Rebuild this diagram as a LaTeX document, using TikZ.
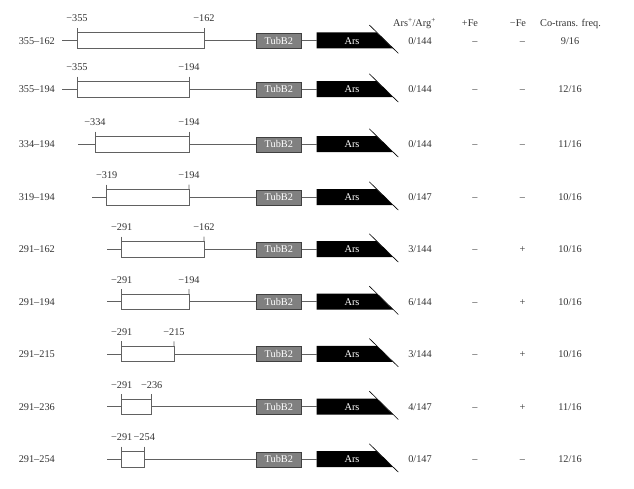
\documentclass[tikz,border=0pt]{standalone}
\usepackage{fontspec}
\setmainfont{Liberation Serif}
\begin{document}
\begin{tikzpicture}[x=1pt,y=-1pt,
  txt/.style={font=\fontsize{10.3}{12}\selectfont, text=black!80, inner sep=0pt},
  ln/.style={draw=black!62, line width=0.8pt},
  pbox/.style={draw=black!62, line width=0.8pt, fill=white, minimum height=15.6pt, inner sep=0pt, outer sep=0pt, anchor=west},
  tubbox/.style={draw=black!75, fill=black!50, line width=0.6pt, minimum width=45.7pt, minimum height=15pt, inner sep=0pt, outer sep=0pt, text=white, font=\fontsize{10.3}{12}\selectfont, anchor=west},
  arsfill/.style={fill=black},
  cut/.style={draw=black, line width=0.6pt}]
\useasboundingbox (0,0) rectangle (634,488);
% headers
\node[txt, anchor=base] (hA) at (414.5,26) {Ars\textsuperscript{+}/Arg\textsuperscript{+}};
\node[txt, anchor=base] (hP) at (470,26) {+Fe};
\node[txt, anchor=base] (hM) at (518,26) {−Fe};
\node[txt, anchor=base] (hC) at (570.5,26) {Co-trans. freq.};
\foreach \i/\y/\s/\L/\R/\ll/\rl/\ratio/\pf/\mf/\fr in {
  1/40.5/62/77/204/355/162/0\slash 144/–/–/9\slash 16,
  2/89.3/62/77/189/355/194/0\slash 144/–/–/12\slash 16,
  3/144.3/78/95/189/334/194/0\slash 144/–/–/11\slash 16,
  4/197.3/92.3/106.7/189/319/194/0\slash 147/–/–/10\slash 16,
  5/249.3/107.3/121.7/204/291/162/3\slash 144/–/+/10\slash 16,
  6/301.7/107.3/121.7/189/291/194/6\slash 144/–/+/10\slash 16,
  7/354/107.3/121.7/174/291/215/3\slash 144/–/+/10\slash 16,
  8/406.7/107.3/121.7/151.7/291/236/4\slash 147/–/+/11\slash 16,
  9/459.3/107.3/121.7/144.3/291/254/0\slash 147/–/–/12\slash 16}{
  % row label
  \node[txt, anchor=base east] (lab\i) at (55,\y+3.5) {\ll–\rl};
  % line start
  \coordinate (s\i) at (\s,\y);
  % promoter box
  \pgfmathsetmacro{\w}{\R-\L}
  \node[pbox, minimum width=\w pt] (p\i) at (\L,\y) {};
  % TubB2
  \node[tubbox] (t\i) at (256,\y) {TubB2};
  % Ars
  \coordinate (a\i) at (316.7,\y);
  \coordinate (aTL\i) at (316.7,\y-8.2);
  \coordinate (aTR\i) at (376.5,\y-8.2);
  \coordinate (aBR\i) at (392.8,\y+7.8);
  \coordinate (aBL\i) at (316.7,\y+7.8);
  \fill[arsfill] (aTL\i) -- (aTR\i) -- (aBR\i) -- (aBL\i) -- cycle;
  \node[txt, text=white, anchor=base] (ars\i) at (352,\y+3.5) {Ars};
  \coordinate (c1\i) at (369.3,\y-15.5);
  \coordinate (c2\i) at (398.3,\y+12.8);
  \draw[cut] (c1\i) -- (c2\i);
  % connecting lines
  \draw[ln] (s\i) -- (p\i.west);
  \draw[ln] (p\i.east) -- (t\i.west);
  \draw[ln] (t\i.east) -- (a\i);
  % ticks
  \coordinate (tl\i) at (\L,\y-12.6);
  \coordinate (tr\i) at (\R,\y-12.6);
  \draw[ln] (tl\i) -- (p\i.north west);
  \draw[ln] (tr\i) -- (p\i.north east);
  \node[txt, anchor=base] (lt\i) at (\L,\y-18.6) {−\ll};
  \node[txt, anchor=base] (rt\i) at (\R,\y-18.6) {−\rl};
  % values
  \node[txt, anchor=base] (v\i) at (420,\y+3.5) {\ratio};
  \node[txt, anchor=base] (pf\i) at (475,\y+3.5) {\pf};
  \node[txt, anchor=base] (mf\i) at (522.5,\y+3.5) {\mf};
  \node[txt, anchor=base] (fr\i) at (570,\y+3.5) {\fr};
}
\end{tikzpicture}
\end{document}
